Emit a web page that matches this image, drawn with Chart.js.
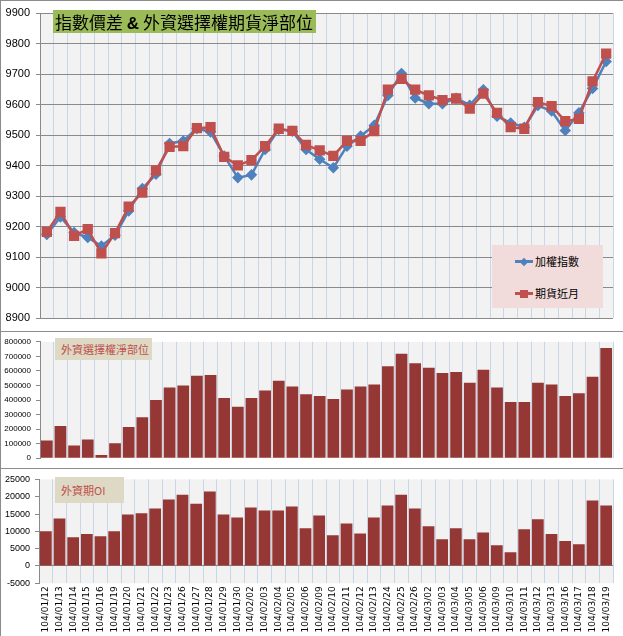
<!DOCTYPE html>
<html>
<head>
<meta charset="utf-8">
<script src="https://cdn.jsdelivr.net/npm/chart.js@4"></script>
<style>
  body { margin: 0; background: #fff; }
  #wrap { position: relative; width: 623px; height: 636px; overflow: hidden; font-family: "Noto Sans CJK TC", sans-serif; }
  .panel { position: absolute; left: 0; width: 623px; }
  .sep { position: absolute; background: #8c8c8c; }
  .tag { position: absolute; box-sizing: border-box; white-space: nowrap; }
  #title { left: 53px; top: 10px; width: 263px; height: 23px; background: #9bbb59; color: #000;
           font-size: 17px; line-height: 23px; padding-left: 2px; }
  #title b { font-family: "Liberation Sans", sans-serif; }
  .sub { background: #ddd9c4; color: #c0504d; font-size: 11px; padding-left: 6px; }
  #legend { position: absolute; left: 492px; top: 245px; width: 111px; height: 63px; background: #f2dcdb; }
  .item { position: absolute; left: 23px; font-size: 11px; line-height: 14px; color: #000; }
  .item .ln { position: absolute; left: 0; top: 6px; width: 18px; height: 2.5px; }
  .item .mk { position: absolute; }
  .item span.t { position: relative; left: 20px; }
</style>
</head>
<body>
<div id="wrap">
  <div class="panel" style="top:0;height:331px"><canvas id="c1"></canvas></div>
  <div class="panel" style="top:332px;height:136px"><canvas id="c2"></canvas></div>
  <div class="panel" style="top:469px;height:167px"><canvas id="c3"></canvas></div>
  <div class="sep" style="left:0;top:0;width:623px;height:1px"></div>
  <div class="sep" style="left:0;top:331px;width:623px;height:1px"></div>
  <div class="sep" style="left:0;top:468px;width:623px;height:1px"></div>
  <div class="sep" style="left:0;top:0;width:1px;height:636px"></div>
  <div class="tag" id="title">指數價差 <b>&amp;</b> 外資選擇權期貨淨部位</div>
  <div class="tag sub" style="left:55px;top:338px;width:97px;height:22px;line-height:22px">外資選擇權淨部位</div>
  <div class="tag sub" style="left:55px;top:477px;width:69px;height:26px;line-height:26px">外資期OI</div>
  <div id="legend"></div>
</div>
<script>
// categories (trade dates, ROC calendar)
const dates = ['104/01/12','104/01/13','104/01/14','104/01/15','104/01/16','104/01/19','104/01/20','104/01/21',
  '104/01/22','104/01/23','104/01/26','104/01/27','104/01/28','104/01/29','104/01/30','104/02/02','104/02/03',
  '104/02/04','104/02/05','104/02/06','104/02/09','104/02/10','104/02/11','104/02/12','104/02/13','104/02/24',
  '104/02/25','104/02/26','104/03/02','104/03/03','104/03/04','104/03/05','104/03/06','104/03/09','104/03/10',
  '104/03/11','104/03/12','104/03/13','104/03/16','104/03/17','104/03/18','104/03/19'];

const seriesNames = ['加權指數', '期貨近月'];

// 加權指數
const taiex = [9175, 9232, 9181, 9165, 9137, 9172, 9252, 9325, 9372, 9473, 9481, 9522, 9510, 9432, 9361, 9370,
  9453, 9519, 9513, 9453, 9421, 9393, 9464, 9497, 9532, 9630, 9702, 9622, 9603, 9603, 9621, 9598, 9649, 9562,
  9540, 9526, 9597, 9579, 9515, 9573, 9653, 9741];

// 期貨近月
const futures = [9183, 9249, 9170, 9192, 9113, 9179, 9266, 9312, 9385, 9462, 9464, 9523, 9526, 9429, 9401, 9418,
  9464, 9521, 9514, 9468, 9450, 9432, 9481, 9481, 9513, 9649, 9684, 9649, 9630, 9615, 9620, 9587, 9636, 9573,
  9526, 9521, 9608, 9595, 9546, 9553, 9676, 9767];

// 外資選擇權淨部位
const optionNet = [122000, 221000, 88000, 128000, 22000, 102000, 214000, 281000, 400000, 486000, 499000, 566000,
  572000, 413000, 354000, 413000, 466000, 532000, 493000, 440000, 427000, 407000, 473000, 493000, 506000, 632000,
  718000, 652000, 621000, 586000, 592000, 519000, 608000, 486000, 387000, 387000, 519000, 506000, 427000, 446000,
  559000, 758000];

// 外資期OI
const futuresOI = [10000, 13700, 8300, 9200, 8600, 10000, 14900, 15200, 16600, 19200, 20600, 18000, 21500, 14900,
  14000, 16900, 16000, 16000, 17200, 10900, 14600, 8900, 12300, 9400, 14000, 17500, 20600, 16600, 11500, 7700,
  10900, 7700, 9700, 6000, 4000, 10600, 13500, 9200, 7200, 6300, 18900, 17500];

const BLUE = '#4f81bd', RED = '#c0504d', BAR = '#953735';
const GRID_V = '#c9d6e8', GRID_H = '#8a8a8a', AXIS = '#8a8a8a';
const tickFont = (size) => ({ family: 'Liberation Sans', size });
const plain = (v) => String(v); // no thousands separators, like the excel axis

// light grey plot area, like the excel original
const plotBg = {
  id: 'plotBg',
  beforeDraw(chart) {
    const { ctx, chartArea: a } = chart;
    ctx.save();
    ctx.fillStyle = '#f2f2f2';
    ctx.fillRect(a.left, a.top, a.width, a.height);
    ctx.restore();
  }
};

Chart.defaults.animation = false;
Chart.defaults.responsive = true;
Chart.defaults.maintainAspectRatio = false;
Chart.defaults.plugins.legend.display = false;
Chart.defaults.plugins.tooltip.enabled = false;
Chart.defaults.color = '#000';

const xHidden = () => ({
  offset: true,
  grid: { offset: true, color: GRID_V, drawTicks: false },
  border: { display: false },
  ticks: { display: false },
  afterFit: (s) => { s.height = 0; }
});

// top: index vs near month futures
new Chart(document.getElementById('c1'), {
  type: 'line',
  data: {
    labels: dates,
    datasets: [{
      label: seriesNames[0],
      data: taiex,
      borderColor: BLUE, backgroundColor: BLUE,
      borderWidth: 2.5, tension: 0,
      pointStyle: 'rectRot', pointRadius: 4, order: 2
    }, {
      label: seriesNames[1],
      data: futures,
      borderColor: RED, backgroundColor: RED,
      borderWidth: 2.5, tension: 0,
      pointStyle: 'rect', pointRadius: 5.5, order: 1
    }]
  },
  options: {
    layout: { padding: { top: 13, right: 10, bottom: 12, left: 0 } },
    scales: {
      x: xHidden(),
      y: {
        min: 8900, max: 9900,
        ticks: { stepSize: 100, font: tickFont(11), padding: 6, callback: plain },
        grid: { color: GRID_H, tickLength: 4 },
        border: { color: AXIS },
        afterFit: (s) => { s.width = 40; }
      }
    }
  },
  plugins: [plotBg]
});

// middle: option net position
new Chart(document.getElementById('c2'), {
  type: 'bar',
  data: {
    labels: dates,
    datasets: [{ label: '外資選擇權淨部位', data: optionNet, backgroundColor: BAR, barPercentage: 0.86, categoryPercentage: 1 }]
  },
  options: {
    layout: { padding: { top: 9.7, right: 10, bottom: 5.7, left: 0 } },
    scales: {
      x: xHidden(),
      y: {
        min: 0, max: 800000,
        ticks: { stepSize: 100000, font: tickFont(8), padding: 5, callback: plain },
        grid: { drawOnChartArea: false, color: AXIS, tickLength: 4 },
        border: { color: AXIS },
        afterFit: (s) => { s.width = 40; }
      }
    }
  },
  plugins: [plotBg]
});

// bottom: futures OI with the date labels
new Chart(document.getElementById('c3'), {
  type: 'bar',
  data: {
    labels: dates,
    datasets: [{ label: '外資期OI', data: futuresOI, backgroundColor: BAR, barPercentage: 0.86, categoryPercentage: 1 }]
  },
  options: {
    layout: { padding: { top: 10.3, right: 10, bottom: 0, left: 0 } },
    scales: {
      x: {
        offset: true,
        grid: { offset: true, color: GRID_V, drawTicks: false },
        border: { display: false },
        ticks: { autoSkip: false, minRotation: 90, maxRotation: 90, padding: 3,
                 font: { family: 'DejaVu Sans', size: 9 } },
        afterFit: (s) => { s.height = 52.7; }
      },
      y: {
        min: -5000, max: 25000,
        ticks: { stepSize: 5000, font: tickFont(9), padding: 5, callback: plain },
        grid: {
          color: (c) => c.tick && c.tick.value === 0 ? AXIS : 'transparent',
          tickColor: AXIS, tickLength: 4
        },
        border: { color: AXIS },
        afterFit: (s) => { s.width = 39; }
      }
    }
  },
  plugins: [plotBg]
});

// legend box for the top chart, built from the series names
const legend = document.getElementById('legend');
[{ name: seriesNames[0], color: BLUE, diamond: true, top: 9 },
 { name: seriesNames[1], color: RED, diamond: false, top: 41 }].forEach((s) => {
  const it = document.createElement('div');
  it.className = 'item';
  it.style.top = s.top + 'px';
  const mk = s.diamond
    ? `<i class="mk" style="left:6px;top:4.5px;width:6px;height:6px;background:${s.color};transform:rotate(45deg)"></i>`
    : `<i class="mk" style="left:5px;top:3.5px;width:8px;height:8px;background:${s.color}"></i>`;
  it.innerHTML = `<i class="ln" style="background:${s.color}"></i>${mk}<span class="t">${s.name}</span>`;
  legend.appendChild(it);
});
</script>
</body>
</html>
